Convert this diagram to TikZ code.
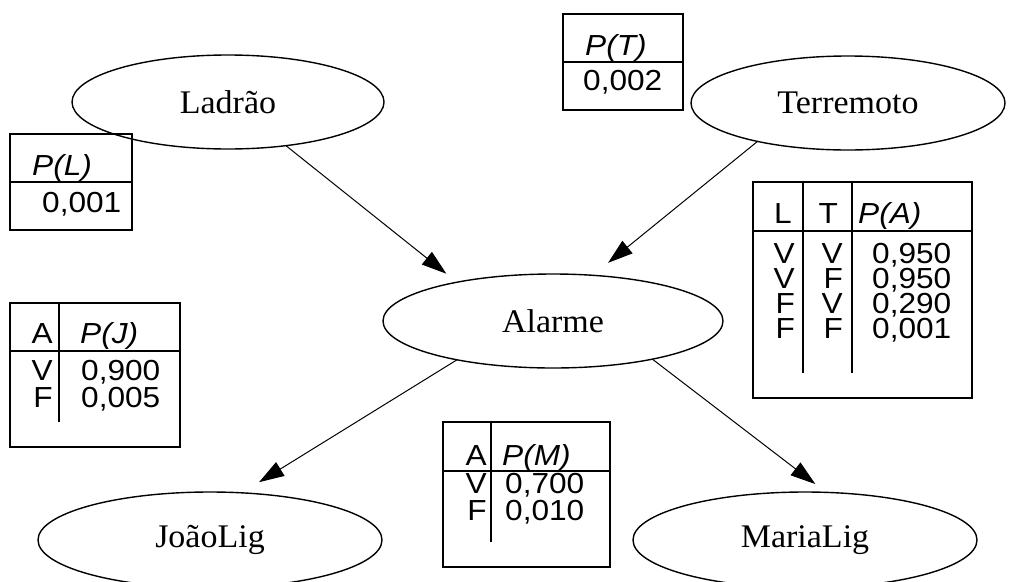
\documentclass[tikz,border=0pt]{standalone}
\usepackage{fontspec}
\setmainfont[FakeStretch=1.03]{Liberation Serif}
\newfontfamily\arial[FakeStretch=1.09]{Liberation Sans}
\usepackage{tikz}
\usetikzlibrary{arrows.meta, shapes, positioning}

\begin{document}
\begin{tikzpicture}[x=1pt, y=-1pt,
    var/.style={ellipse, draw, line width=1.4pt, inner sep=0pt, outer sep=0pt,
                font=\fontsize{33}{38}\selectfont},
    arr/.style={-{Triangle[length=25pt, width=16pt]}, line width=1pt},
    tbl/.style={line width=2.5pt},
    cpt/.style={inner sep=0pt, text height=20pt, text depth=2pt,
                font=\arial\fontsize{29}{34}\selectfont}]
    \useasboundingbox (0,0) rectangle (1030,581);

    % Variables of the network
    \node[var, minimum width=312pt, minimum height=94pt] (ladrao) at (228,102) {Ladrão};
    \node[var, minimum width=314pt, minimum height=94pt] (terremoto) at (848,103) {Terremoto};
    \node[var, minimum width=340pt, minimum height=94pt] (alarme) at (553,321) {Alarme};
    \node[var, minimum width=344pt, minimum height=96pt] (joao) at (210,540) {JoãoLig};
    \node[var, minimum width=344pt, minimum height=96pt] (maria) at (805,540) {MariaLig};

    % Dependencies
    \draw[arr, shorten >=13.6pt] (ladrao.-37.6) -- (alarme.158.4);
    \draw[arr, shorten >=19.8pt] (terremoto.203.8) -- (alarme.49.2);
    \draw[arr, shorten >=20.3pt] (alarme.-158.9) -- (joao.56.9);
    \draw[arr, shorten >=13.7pt] (alarme.-21.5) -- (maria.66.3);

    % P(L)
    \draw[tbl] (10,134) rectangle (132,230);
    \draw[tbl] (10,182) -- (132,182);
    \node[cpt, anchor=base west] (pl-h) at (32,175) {\itshape P(L)};
    \node[cpt, anchor=base west] (pl-v) at (42,212) {0,001};

    % P(T)
    \draw[tbl] (563,14) rectangle (683,110);
    \draw[tbl] (563,62) -- (683,62);
    \node[cpt, anchor=base west] (pt-h) at (585,55) {\itshape P(T)};
    \node[cpt, anchor=base west] (pt-v) at (583,90) {0,002};

    % P(A | L, T)
    \draw[tbl] (753,182) rectangle (972,398);
    \draw[tbl] (753,231) -- (972,231);
    \draw[tbl] (803,182) -- (803,373);
    \draw[tbl] (852,182) -- (852,373);
    \node[cpt, anchor=base east] (pa-l) at (792,223) {L};
    \node[cpt, anchor=base east] (pa-t) at (838,223) {T};
    \node[cpt, anchor=base west] (pa-p) at (858,223) {\itshape P(A)};
    \foreach \l/\t/\p [count=\i] in {V/V/0{,}950, V/F/0{,}950, F/V/0{,}290, F/F/0{,}001} {
        \node[cpt, anchor=base east] (pa-l\i) at (795,238+25*\i) {\l};
        \node[cpt, anchor=base east] (pa-t\i) at (843,238+25*\i) {\t};
        \node[cpt, anchor=base west] (pa-p\i) at (872,238+25*\i) {\p};
    }

    % P(J | A)
    \draw[tbl] (10,303) rectangle (180,447);
    \draw[tbl] (10,351) -- (180,351);
    \draw[tbl] (59,303) -- (59,422);
    \node[cpt, anchor=base east] (pj-a) at (53,343) {A};
    \node[cpt, anchor=base west] (pj-p) at (80,343) {\itshape P(J)};
    \foreach \a/\p [count=\i] in {V/0{,}900, F/0{,}005} {
        \node[cpt, anchor=base east] (pj-a\i) at (53,353+27*\i) {\a};
        \node[cpt, anchor=base west] (pj-p\i) at (81,353+27*\i) {\p};
    }

    % P(M | A)
    \draw[tbl] (443,422) rectangle (610,567);
    \draw[tbl] (443,471) -- (610,471);
    \draw[tbl] (491,422) -- (491,542);
    \node[cpt, anchor=base east] (pm-a) at (487,465) {A};
    \node[cpt, anchor=base west] (pm-p) at (502,465) {\itshape P(M)};
    \foreach \a/\p [count=\i] in {V/0{,}700, F/0{,}010} {
        \node[cpt, anchor=base east] (pm-a\i) at (487,466+27*\i) {\a};
        \node[cpt, anchor=base west] (pm-p\i) at (505,466+27*\i) {\p};
    }
\end{tikzpicture}
\end{document}
